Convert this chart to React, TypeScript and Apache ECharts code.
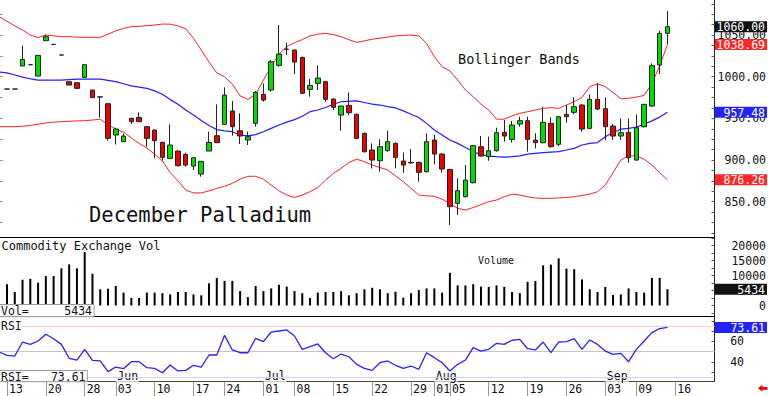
import React, { useEffect, useRef } from 'react';
import * as echarts from 'echarts';

const FONT = '"DejaVu Sans Mono", monospace';

// trading sessions (2024); first entry is the session before the visible window
const tradingDays = [
  '05-10',
  '05-13', '05-14', '05-15', '05-16', '05-17',
  '05-20', '05-21', '05-22', '05-23', '05-24',
  '05-28', '05-29', '05-30', '05-31',
  '06-03', '06-04', '06-05', '06-06', '06-07',
  '06-10', '06-11', '06-12', '06-13', '06-14',
  '06-17', '06-18', '06-20', '06-21',
  '06-24', '06-25', '06-26', '06-27', '06-28',
  '07-01', '07-02', '07-03', '07-05',
  '07-08', '07-09', '07-10', '07-11', '07-12',
  '07-15', '07-16', '07-17', '07-18', '07-19',
  '07-22', '07-23', '07-24', '07-25', '07-26',
  '07-29', '07-30', '07-31',
  '08-01', '08-02',
  '08-05', '08-06', '08-07', '08-08', '08-09',
  '08-12', '08-13', '08-14', '08-15', '08-16',
  '08-19', '08-20', '08-21', '08-22', '08-23',
  '08-26', '08-27', '08-28', '08-29', '08-30',
  '09-03', '09-04', '09-05', '09-06',
  '09-09', '09-10', '09-11', '09-12', '09-13',
  '09-16', '09-17', '09-18', '09-19', '09-20',
];

const weekTickDays = ['05-13', '05-20', '05-28', '06-03', '06-10', '06-17', '06-24', '07-01', '07-08', '07-15', '07-22', '07-29', '08-01', '08-05', '08-12', '08-19', '08-26', '09-03', '09-09', '09-16'];
const monthStartDays = ['06-03', '07-01', '08-01', '09-03'];
const monthNames = ['Jun', 'Jul', 'Aug', 'Sep'];

// OHLC from 05-13 to 09-13
const open = [985.2, 985.2, 1012.8, 1014.4, 1000.8, 1043.2, 1038.8, 1026, 994, 992.8,
  999.2, 984, 975.8, 967.6, 930, 922, 950, 951.2, 940, 936,
  921.2, 902, 910.8, 906.8, 892.8, 883.2, 910.8, 929.2, 942.8, 958.8,
  935.2, 924, 944, 978.8, 984, 1013.6, 1033.2, 1032, 1023.2, 984.8,
  992, 994, 973.2, 954, 965.6, 954.8, 932, 912, 899.2, 911.2,
  920, 898.8, 896.5, 897.2, 886, 924, 907.2, 888.8, 848, 856,
  872.8, 916, 904, 911.2, 933.2, 924.8, 943.2, 947.2, 924, 920.8,
  944, 918.8, 954.8, 957.2, 966, 938, 972.8, 961.6, 940.8, 928.8,
  933.2, 900, 940, 964.8, 1014, 1052];
const close = [985.2, 985.2, 1020.8, 1014.4, 1025.6, 1048, 1038.8, 1026, 990, 986,
  1014.4, 974.8, 975.6, 926, 937.2, 928.8, 946, 946, 926, 923.2,
  903.2, 918, 893.2, 894, 902.8, 898.4, 921.2, 920.8, 978, 940,
  928.8, 928, 981.2, 972, 1018, 1027.2, 1032.8, 1017.6, 980, 989.6,
  998.4, 972.8, 963.2, 964.8, 956.8, 926, 910, 900, 916, 922,
  903.2, 894, 897.2, 885.2, 922, 907.2, 889.2, 844, 863.2, 876,
  917.2, 904.8, 911.2, 932.8, 928.8, 942, 947.2, 924.8, 920.8, 945.2,
  916, 952, 952, 964, 937.2, 972.8, 961.2, 940, 928.8, 932.8,
  902.8, 938.8, 966.8, 1013.2, 1052, 1060];
const low = [985.2, 985.2, 1012.8, 1014.4, 1000.8, 1043.2, 1038.8, 1026, 990, 985.5,
  999.2, 974.8, 950.8, 923.2, 918.8, 922, 943.2, 946, 916, 902,
  899.2, 902, 892.5, 892, 888, 880, 910.8, 920.8, 942.8, 929.2,
  919.2, 918, 940, 970, 982, 1012, 1026, 1003.2, 979, 976,
  984, 970, 960, 935.2, 954, 925, 909, 890, 886, 910,
  890, 884.8, 896, 874, 885, 894.8, 884.8, 822, 834, 855,
  872, 904, 899, 910, 922, 921, 940, 910, 914, 920,
  915, 917, 944.8, 955, 934, 937, 960, 924, 924, 924,
  896.8, 899, 939, 964, 1003.2, 1038.8];
const high = [985.2, 985.2, 1037.2, 1014.4, 1025.6, 1050.4, 1038.8, 1026, 994, 993.5,
  1014.4, 984, 975.8, 968, 938.8, 932, 950.8, 957.2, 940.5, 936.5,
  922, 942.8, 911.5, 908.8, 903, 898.4, 934, 966.8, 987.2, 970.8,
  956, 934, 983, 992, 1020, 1062, 1040.8, 1032.5, 1024, 997.2,
  1013.6, 995, 974, 965.2, 981.2, 956, 933, 920, 925, 935.2,
  921, 909.2, 913.2, 898, 932, 930, 908, 889, 878, 894,
  918, 928.8, 928, 938.8, 948, 947, 952, 952, 932, 964,
  951.2, 953, 966, 975.2, 967, 978.8, 992, 975.2, 943.2, 950,
  950, 954.8, 967, 1016, 1055.2, 1078.8];

// volume from 05-13 to 09-13
const volume = [7100, 4500, 8600, 8900, 7600, 9800, 9800, 12400, 13700, 12400,
  17800, 10600, 5400, 5600, 6500, 4300, 2500, 2500, 4300, 4300,
  4100, 3700, 4500, 4500, 3700, 3400, 7400, 9200, 8200, 8200,
  4800, 2800, 6500, 4800, 5700, 6900, 6300, 4800, 4100, 2500,
  4300, 4500, 4500, 4800, 3400, 4100, 5400, 5900, 5400, 4100,
  4600, 2600, 4100, 5200, 5700, 5700, 4300, 10900, 6700, 6700,
  7100, 6300, 6200, 6700, 6200, 4500, 4100, 7900, 8200, 13400,
  13600, 15700, 12300, 12100, 8700, 5400, 4500, 6200, 3500, 3700,
  5700, 4500, 4300, 9200, 9200, 5434];

// indicators from 05-10 to 09-13
const bandUpper = [1072,
  1066.6, 1061, 1056, 1050, 1047, 1050, 1049, 1048, 1048, 1047.5,
  1047.2, 1047.2, 1047.2, 1051, 1055, 1058, 1060, 1060.5, 1061.2, 1062,
  1063.2, 1063, 1061, 1057.5, 1046, 1032, 1017.5, 1004.5, 1000, 991,
  977, 972.8, 979, 996, 1012, 1027, 1036, 1040.8, 1044.5, 1049,
  1051, 1052, 1050.5, 1048, 1044.5, 1041.2, 1043, 1045, 1046.3, 1047.5,
  1049, 1049.5, 1050, 1049, 1040, 1024, 1012, 1007, 996, 984,
  976, 967, 960, 949, 949, 953, 956, 958, 960, 962,
  962.8, 962, 966, 970, 975, 988, 991.5, 988, 981, 973.5,
  974, 975.5, 977.5, 992, 1013, 1038.69];
const bandMiddle = [1005.5,
  1004.5, 1002, 999.5, 997.5, 996, 996, 996, 996, 996.5, 997,
  997, 997, 997, 995.5, 994, 991.5, 989, 987.5, 986, 983,
  979, 972.5, 967, 960, 954, 947.5, 941.5, 936.5, 935, 934,
  930, 929, 930.5, 934, 938, 942, 945.5, 948.5, 952.5, 958,
  960, 963, 967, 970, 970.5, 971, 969, 967, 966, 964,
  962.5, 959, 955, 951, 944, 936, 930, 924, 920, 915,
  910, 906.5, 904.8, 904, 903.5, 904, 905, 907, 908, 909,
  909.5, 910, 912, 914, 918, 920, 921, 928, 933, 937,
  938, 939.5, 943, 947, 951.5, 957.48];
const bandLower = [940,
  940, 940, 940.5, 941.5, 943, 944.5, 945.5, 946, 946.5, 947,
  947.2, 948, 949, 942.6, 937, 933.5, 926.5, 920, 914.5, 907,
  899, 885, 875, 864, 860.5, 860.5, 863, 866, 868.5, 872,
  877, 880.5, 880.5, 877, 870, 863, 858, 855, 858, 862,
  867, 876, 884, 890, 897, 901, 898, 894, 891, 888,
  881, 874, 866, 858, 857, 856.5, 853, 848, 842, 840,
  843, 846.5, 850, 852, 856, 859, 858, 856, 854.5, 854,
  854, 854.5, 855, 856, 857.5, 859, 862, 870, 885, 900,
  905, 905, 901, 894, 885, 876.26];
const rsi = [49.7,
  46.5, 45.8, 59.4, 57.1, 60.4, 66.9, 62.6, 57.1, 43.6, 41.9,
  52.3, 41.6, 41.0, 30.6, 35.1, 33.5, 40.3, 40.3, 34.5, 33.8,
  29.6, 37.1, 31.3, 31.9, 36.8, 35.1, 46.8, 46.8, 65.9, 51.7,
  49.0, 49.0, 63.0, 59.7, 69.1, 70.1, 71.1, 65.2, 52.3, 54.9,
  57.5, 49.0, 43.2, 47.7, 45.1, 37.7, 33.8, 31.9, 39.3, 41.0,
  36.8, 33.8, 36.1, 32.9, 49.0, 44.2, 39.3, 31.3, 37.7, 41.9,
  53.9, 50.6, 52.3, 58.1, 57.1, 61.1, 62.0, 52.9, 51.7, 59.4,
  49.0, 59.4, 59.7, 62.6, 52.3, 61.4, 57.1, 50.6, 47.4, 48.4,
  40.3, 52.3, 60.4, 68.5, 72.5, 73.61];
const rsiLevels = [75, 50, 25];

const priceLabels = [850, 900, 950, 1000, 1050];
const volLabels = [0, 5000, 10000, 15000, 20000];
const rsiLabels = [40, 60];

// layout constants
const PX0 = 7;
const PXSTEP = 7.77;
const PLOT_RIGHT = 714.5;
const RIGHT = 768 - PLOT_RIGHT;
const X_MIN = 1 - PX0 / PXSTEP;
const X_MAX = 1 + (PLOT_RIGHT - PX0) / PXSTEP;

function range(a: number, b: number, s: number) {
  const out: number[] = [];
  for (let v = a; v <= b + 1e-9; v += s) out.push(v);
  return out;
}

function tag(bg: string, text: string) {
  return {
    show: true,
    position: 'end',
    distance: 0.5,
    formatter: '{t|' + text + '}',
    backgroundColor: bg,
    padding: [1, 2, 0, 2],
    rich: { t: { width: 48, align: 'right', color: '#fff', fontFamily: FONT, fontSize: 11.5, lineHeight: 10 } },
  };
}
function tagLine(value: number, bg: string, text: string) {
  return {
    silent: true,
    symbol: ['none', 'none'],
    animation: false,
    lineStyle: { color: 'rgba(0,0,0,0)', width: 0 },
    label: tag(bg, text),
    data: [{ yAxis: value }],
  };
}

function buildOption() {
  const idx = (d: string) => tradingDays.indexOf(d);
  const weekTicks = weekTickDays.map(idx);
  const monthTicks = monthStartDays.map(idx);
  const candleData = open.map((o, k) => [k + 1, o, close[k], low[k], high[k]]);
  const volData = volume.map((v, k) => [k + 1, v]);
  const ser = (arr: number[]) => arr.map((v, k) => [k, v]);
  const lastClose = close[close.length - 1];
  const lastVol = volume[volume.length - 1];
  const lastRsi = rsi[rsi.length - 1];
  const lastU = bandUpper[bandUpper.length - 1];
  const lastM = bandMiddle[bandMiddle.length - 1];
  const lastL = bandLower[bandLower.length - 1];

  const baseX = (gridIndex: number, lineColor: string) => ({
    type: 'value', gridIndex, min: X_MIN, max: X_MAX,
    axisLine: { show: true, onZero: false, lineStyle: { color: lineColor, width: 1 } },
    axisTick: { show: false }, axisLabel: { show: false }, splitLine: { show: false },
  });
  const grid = (top: number, height: number) => ({
    left: 0, right: RIGHT, top, height, containLabel: false, outerBoundsMode: 'none',
  });
  const axisText = { fontFamily: FONT, fontSize: 11.5, color: '#111' };
  const txt = (text: string, x: number, y: number, size: number, extra: any = {}) => ({
    type: 'text', x, y, z: 60,
    style: { text, fontFamily: FONT, fontSize: size, fill: '#111', verticalAlign: 'middle', ...extra },
  });

  return {
    animation: false,
    backgroundColor: '#fff',
    grid: [grid(0, 237.7), grid(237.7, 79), grid(316.7, 65)],
    xAxis: [
      baseX(0, '#000'),
      baseX(1, '#000'),
      {
        ...baseX(2, '#444'),
        position: 'bottom',
        axisTick: { show: true, customValues: weekTicks, length: 14.5, lineStyle: { color: '#999', width: 1 } },
        axisLabel: {
          show: true, customValues: weekTicks, ...axisText, align: 'left', margin: 1.5, padding: [0, 0, 0, 2],
          formatter: (v: number) => { const d = tradingDays[Math.round(v)]; return d ? d.slice(3) : ''; },
        },
      },
      {
        type: 'value', gridIndex: 2, min: X_MIN, max: X_MAX, position: 'bottom',
        axisLine: { show: false }, axisTick: { show: false }, splitLine: { show: false },
        axisLabel: {
          show: true, inside: true, customValues: monthTicks, ...axisText, align: 'left', margin: 0,
          backgroundColor: '#fff', padding: [0, 1, 0, 1.5],
          formatter: (v: number) => { const k = monthTicks.indexOf(Math.round(v)); return k >= 0 ? monthNames[k] : ''; },
        },
      },
    ],
    yAxis: [
      {
        type: 'value', gridIndex: 0, position: 'right', min: 806.8, max: 1092.04,
        axisLine: { show: true, lineStyle: { color: '#222' } },
        axisTick: { show: true, inside: true, length: 3, customValues: range(812.5, 1087.5, 12.5), lineStyle: { color: '#555' } },
        axisLabel: { show: true, customValues: priceLabels, ...axisText, align: 'right', margin: 51.5, formatter: (v: number) => v.toFixed(2) },
        splitLine: { show: false },
      },
      {
        type: 'value', gridIndex: 0, position: 'left', min: 806.8, max: 1092.04,
        axisLine: { show: false },
        axisTick: { show: true, inside: true, length: 3, customValues: range(825, 1075, 25), lineStyle: { color: '#999' } },
        axisLabel: { show: false }, splitLine: { show: false },
      },
      {
        type: 'value', gridIndex: 1, position: 'right', min: -3733, max: 22600,
        axisLine: { show: true, lineStyle: { color: '#222' } },
        axisTick: { show: true, inside: true, length: 3, customValues: range(-2500, 22500, 2500), lineStyle: { color: '#555' } },
        axisLabel: { show: true, customValues: volLabels, ...axisText, align: 'right', margin: 51.5, formatter: (v: number) => String(v) },
        splitLine: { show: false },
      },
      {
        type: 'value', gridIndex: 2, position: 'right', min: 20.87, max: 83.98,
        axisLine: { show: true, lineStyle: { color: '#222' } },
        axisTick: { show: true, inside: true, length: 3, customValues: range(30, 80, 10), lineStyle: { color: '#555' } },
        axisLabel: { show: true, customValues: rsiLabels, ...axisText, align: 'right', margin: 29.5, formatter: (v: number) => String(v) },
        splitLine: { show: false },
      },
    ],
    series: [
      {
        type: 'line', name: 'upper', xAxisIndex: 0, yAxisIndex: 0, data: ser(bandUpper), symbol: 'none', z: 2,
        lineStyle: { color: '#ff2020', width: 1 }, markLine: tagLine(lastU, '#ff2626', lastU.toFixed(2)),
      },
      {
        type: 'line', name: 'middle', xAxisIndex: 0, yAxisIndex: 0, data: ser(bandMiddle), symbol: 'none', z: 2,
        lineStyle: { color: '#2020ff', width: 1.2 }, markLine: tagLine(lastM, '#2323ff', lastM.toFixed(2)),
      },
      {
        type: 'line', name: 'lower', xAxisIndex: 0, yAxisIndex: 0, data: ser(bandLower), symbol: 'none', z: 2,
        lineStyle: { color: '#ff2020', width: 1 }, markLine: tagLine(lastL, '#ff2626', lastL.toFixed(2)),
      },
      {
        type: 'candlestick', name: 'price', xAxisIndex: 0, yAxisIndex: 0, data: candleData, barWidth: 5, z: 3,
        itemStyle: { color: '#00dd00', color0: '#ee0000', borderColor: '#222', borderColor0: '#222', borderWidth: 1 },
        markLine: tagLine(lastClose, '#111', lastClose.toFixed(2)),
      },
      {
        type: 'bar', name: 'volume', xAxisIndex: 1, yAxisIndex: 2, data: volData, barWidth: 2,
        itemStyle: { color: '#000' }, markLine: tagLine(lastVol, '#111', String(lastVol)),
      },
      {
        type: 'line', name: 'rsi', xAxisIndex: 2, yAxisIndex: 3, data: ser(rsi), symbol: 'none', z: 6,
        lineStyle: { color: '#2424ff', width: 1.3 },
        markLine: {
          silent: true, symbol: ['none', 'none'], animation: false,
          lineStyle: { type: 'solid', width: 1 },
          label: { show: false },
          data: [
            { yAxis: rsiLevels[0], lineStyle: { color: '#ffcaca', type: 'solid' } },
            { yAxis: rsiLevels[1], lineStyle: { color: '#c4c4c4', type: 'solid' } },
            { yAxis: rsiLevels[2], lineStyle: { color: '#c9d3fb', type: 'solid' } },
            { yAxis: lastRsi, lineStyle: { color: 'rgba(0,0,0,0)', width: 0 }, label: tag('#2323ff', lastRsi.toFixed(2)) },
          ],
        },
      },
    ],
    graphic: [
      txt('December Palladium', 89, 214.5, 20.5),
      txt('Bollinger Bands', 458, 58.5, 13.5),
      txt('Commodity Exchange Vol', 1.5, 246, 12),
      txt('Volume', 478, 260.5, 10),
      { type: 'rect', z: 55, shape: { x: -1, y: 304.5, width: 95, height: 12.2 }, style: { fill: '#fff', stroke: '#999', lineWidth: 1 } },
      txt('Vol=', 1, 311, 11.5),
      txt(String(lastVol), 92, 311, 11.5, { align: 'right' }),
      { type: 'rect', z: 55, shape: { x: -1, y: 319.5, width: 23, height: 11.5 }, style: { fill: '#fff' } },
      txt('RSI', 1, 325.5, 11.5),
      { type: 'rect', z: 55, shape: { x: -1, y: 370.5, width: 88.3, height: 11.2 }, style: { fill: '#fff', stroke: '#999', lineWidth: 1 } },
      txt('RSI=', 1, 376.5, 11.5),
      txt(lastRsi.toFixed(2), 85.5, 376.5, 11.5, { align: 'right' }),
      {
        type: 'polygon', z: 60,
        shape: { points: [[758, 388.3], [762.5, 384.8], [762.5, 387], [767.5, 387], [767.5, 389.7], [762.5, 389.7], [762.5, 391.8]] },
        style: { fill: '#ee0000' },
      },
    ],
  };
}

export default function App() {
  const ref = useRef<HTMLDivElement>(null);
  useEffect(() => {
    document.body.style.margin = '0';
    const chart = echarts.init(ref.current as HTMLDivElement, undefined, { renderer: 'svg', width: 768, height: 396 });
    chart.setOption(buildOption() as any);
    return () => chart.dispose();
  }, []);
  return <div ref={ref} style={{ position: 'absolute', left: 0, top: 0, width: 768, height: 396, background: '#fff' }} />;
}
